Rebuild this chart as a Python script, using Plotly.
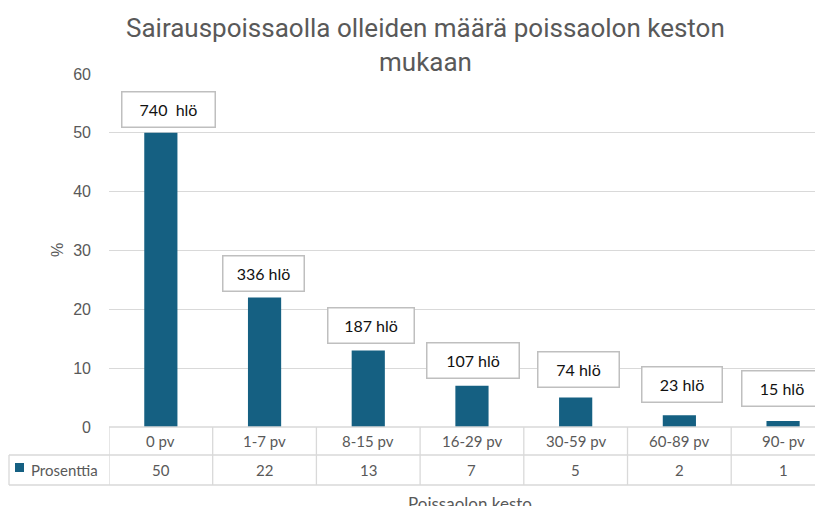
import plotly.graph_objects as go

categories = ["0 pv", "1-7 pv", "8-15 pv", "16-29 pv", "30-59 pv", "60-89 pv", "90- pv"]
percent = [50, 22, 13, 7, 5, 2, 1]
persons = ["740  hlö", "336 hlö", "187 hlö", "107 hlö", "74 hlö", "23 hlö", "15 hlö"]
series_name = "Prosenttia"
y_ticks = [0, 10, 20, 30, 40, 50, 60]
title_lines = ["Sairauspoissaolla olleiden määrä poissaolon keston", "mukaan"]
x_title = "Poissaolon kesto"
y_title = "%"

BAR = "#156082"
GRID = "#d9d9d9"
TXT = "#595959"

# page body has an 8px margin; build the figure so it fits the 823x506 window
OFF = 8
W, H = 823 - OFF, 506 - OFF
L = 109 - OFF
T = 74 - OFF
B = H - (427 - OFF)
PH = H - T - B
PW = W - L

def py(p):  # window pixel y -> paper y
    return (H - B - (p - OFF)) / PH

def px(p):  # window pixel x -> paper x
    return ((p - OFF) - L) / PW

xs = list(range(len(categories)))

fig = go.Figure()
fig.add_trace(go.Bar(x=xs, y=percent, width=0.32, marker=dict(color=BAR, line=dict(width=0)),
                     name=series_name, showlegend=False))

ln = dict(color=GRID, width=1.3)
shapes = []
shapes.append(dict(type="line", xref="paper", yref="paper", x0=0, x1=1, y0=py(427), y1=py(427), line=ln))
shapes.append(dict(type="line", xref="paper", yref="paper", x0=px(9), x1=1, y0=py(455), y1=py(455), line=ln))
shapes.append(dict(type="line", xref="paper", yref="paper", x0=px(9), x1=1, y0=py(485), y1=py(485), line=ln))
shapes.append(dict(type="line", xref="paper", yref="paper", x0=px(9), x1=px(9), y0=py(455), y1=py(485), line=ln))
for i in range(len(categories)):
    shapes.append(dict(type="line", xref="x", yref="paper", x0=i - 0.5, x1=i - 0.5, y0=py(427), y1=py(485),
                       line=ln))
shapes.append(dict(type="rect", xref="paper", yref="paper", x0=px(15), x1=px(24), y0=py(472), y1=py(463),
                   fillcolor=BAR, line=dict(width=0)))

annotations = []
tf = dict(family="Lato", size=15, color=TXT)
for i, c in enumerate(categories):
    annotations.append(dict(x=i, y=py(441), xref="x", yref="paper", text=c, showarrow=False,
                            xanchor="center", yanchor="middle", font=tf))
    annotations.append(dict(x=i, y=py(470), xref="x", yref="paper", text=str(percent[i]), showarrow=False,
                            xanchor="center", yanchor="middle", font=tf))
annotations.append(dict(x=px(29), y=py(470), xref="paper", yref="paper", text=series_name, showarrow=False,
                        xanchor="left", yanchor="middle", font=tf))

label_xshift = [8, -1, 3, 1, 3, 3, -1]
label_yshift = [23, 24, 25, 25, 28, 31, 33]
label_width = [88, 76, 81, 87, 76, 75, 75]
for i, t in enumerate(persons):
    annotations.append(dict(x=i, y=percent[i], xref="x", yref="y", text=t, showarrow=False,
                            xanchor="center", yanchor="middle",
                            xshift=label_xshift[i], yshift=label_yshift[i], width=label_width[i], height=30,
                            bgcolor="white", bordercolor="#bfbfbf", borderwidth=1.5, borderpad=2,
                            font=dict(family="Lato", size=16, color="#111111")))

for k, line in enumerate(title_lines):
    annotations.append(dict(x=px(425), y=py(28 + 34 * k), xref="paper", yref="paper", text=line,
                            xanchor="center", yanchor="middle",
                            showarrow=False, font=dict(family="Roboto", size=26, color=TXT)))
annotations.append(dict(x=px(470), y=py(503), xref="paper", yref="paper", text=x_title,
                        xanchor="center", yanchor="middle",
                        showarrow=False, font=dict(family="Lato", size=17, color=TXT)))
annotations.append(dict(x=px(57), y=py(250), xref="paper", yref="paper", text=y_title, textangle=-90,
                        xanchor="center", yanchor="middle",
                        showarrow=False, font=dict(family="Liberation Sans", size=16, color=TXT)))

fig.update_layout(
    width=W, height=H,
    margin=dict(l=L, r=0, t=T, b=B, autoexpand=False),
    paper_bgcolor="white", plot_bgcolor="white",
    shapes=shapes, annotations=annotations,
    showlegend=False,
)
fig.update_xaxes(range=[-0.5, 6.385], showticklabels=False, showgrid=False, zeroline=False, showline=False,
                 fixedrange=True)
fig.update_yaxes(range=[0, 60], tickvals=y_ticks, showgrid=True, gridcolor=GRID, gridwidth=1.3,
                 zeroline=False, showline=False, ticks="", ticklabelstandoff=17,
                 tickfont=dict(family="Liberation Sans", size=16, color=TXT))

fig.write_html("out.html")
